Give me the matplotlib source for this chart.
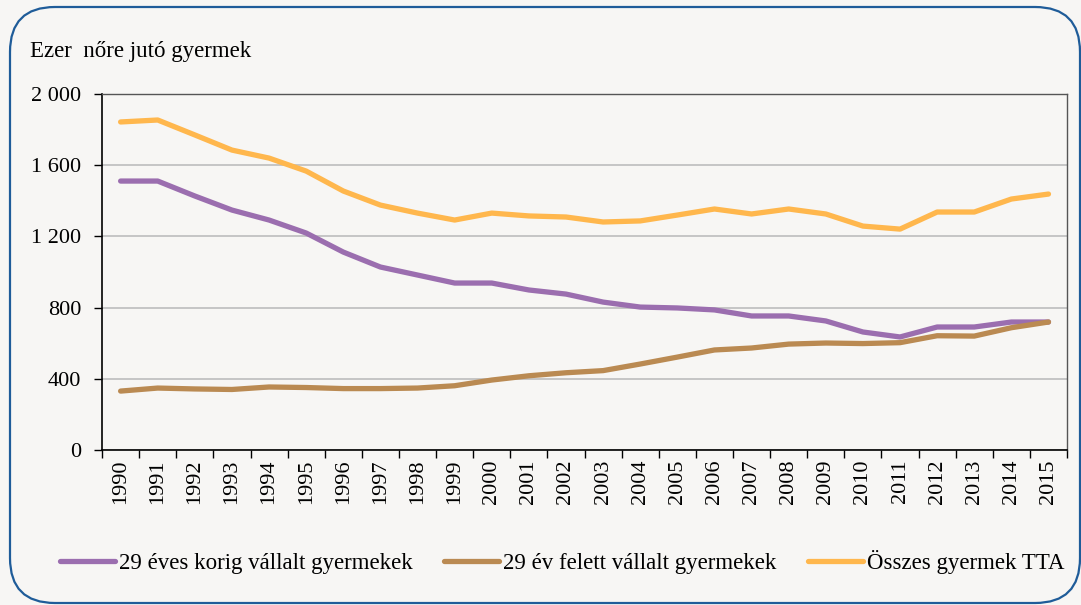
import numpy as np
import matplotlib.pyplot as plt
from matplotlib.patches import FancyBboxPatch
from matplotlib.ticker import FuncFormatter

# Data
years = [str(y) for y in range(1990, 2016)]
under29 = [1511, 1511, 1427, 1348, 1292, 1219, 1112, 1028, 983, 938, 938, 899, 876,
           831, 803, 798, 787, 753, 753, 725, 663, 635, 691, 691, 719, 719]
over29 = [331, 348, 343, 340, 354, 351, 345, 345, 348, 361, 393, 417, 434,
          446, 483, 522, 562, 573, 595, 601, 598, 603, 642, 640, 687, 719]
total = [1843, 1854, 1770, 1685, 1640, 1567, 1455, 1376, 1331, 1292, 1331, 1315, 1309,
         1281, 1287, 1320, 1354, 1326, 1354, 1326, 1258, 1241, 1337, 1337, 1410, 1438]
labels = ['29 éves korig vállalt gyermekek', '29 év felett vállalt gyermekek', 'Összes gyermek TTA']
colors = ['#9B6EAF', '#BA8A52', '#FFB74D']

plt.rcParams['font.family'] = ['Liberation Serif', 'DejaVu Serif']
bg = '#F7F6F4'

fig = plt.figure(figsize=(10.81, 6.05), dpi=100, facecolor=bg)

# Rounded frame around the chart
frame = FancyBboxPatch((0.10, 0.02), 10.70, 5.96, boxstyle='round,pad=0,rounding_size=0.45',
                       transform=fig.dpi_scale_trans, facecolor='none',
                       edgecolor='#1F5C99', linewidth=1.6)
fig.patches.append(frame)

ax = fig.add_axes([0.0944, 0.2562, 0.8927, 0.5884], facecolor=bg)
x = np.arange(len(years))
for vals, lab, col in zip([under29, over29, total], labels, colors):
    ax.plot(x, vals, color=col, linewidth=3.8, label=lab, solid_capstyle='round')

ax.set_xlim(-0.5, len(years) - 0.5)
ax.set_ylim(0, 2000)
ax.set_yticks(np.arange(0, 2001, 400))
ax.yaxis.set_major_formatter(FuncFormatter(lambda v, p: f'{int(v):,}'.replace(',', ' ')))
ax.yaxis.grid(True, color='#BDBDBD', linewidth=1.2)
ax.set_axisbelow(True)

ax.set_xticks(x)
ax.set_xticklabels(years, rotation=90)
ax.set_xticks(np.arange(-0.5, len(years)), minor=True)
ax.tick_params(axis='x', which='major', length=0, pad=7, labelsize=16)
ax.tick_params(axis='x', which='minor', length=6, width=1, color='black')
ax.tick_params(axis='y', length=6, width=1, labelsize=16, pad=9)

for s in ['left', 'bottom']:
    ax.spines[s].set_color('black')
    ax.spines[s].set_linewidth(1.2)
for s in ['top', 'right']:
    ax.spines[s].set_color('#555555')
    ax.spines[s].set_linewidth(1.0)

fig.text(30 / 1081, 1 - 52 / 605, 'Ezer  nőre jutó gyermek', fontsize=16.5, va='center', ha='left')

fig.legend(loc='center', bbox_to_anchor=(0.52, 1 - 562 / 605), ncol=3, frameon=False,
           fontsize=16.5, handlelength=2.4, handletextpad=0.15, columnspacing=1.4)

fig.savefig('out.png', dpi=100, facecolor=bg)
